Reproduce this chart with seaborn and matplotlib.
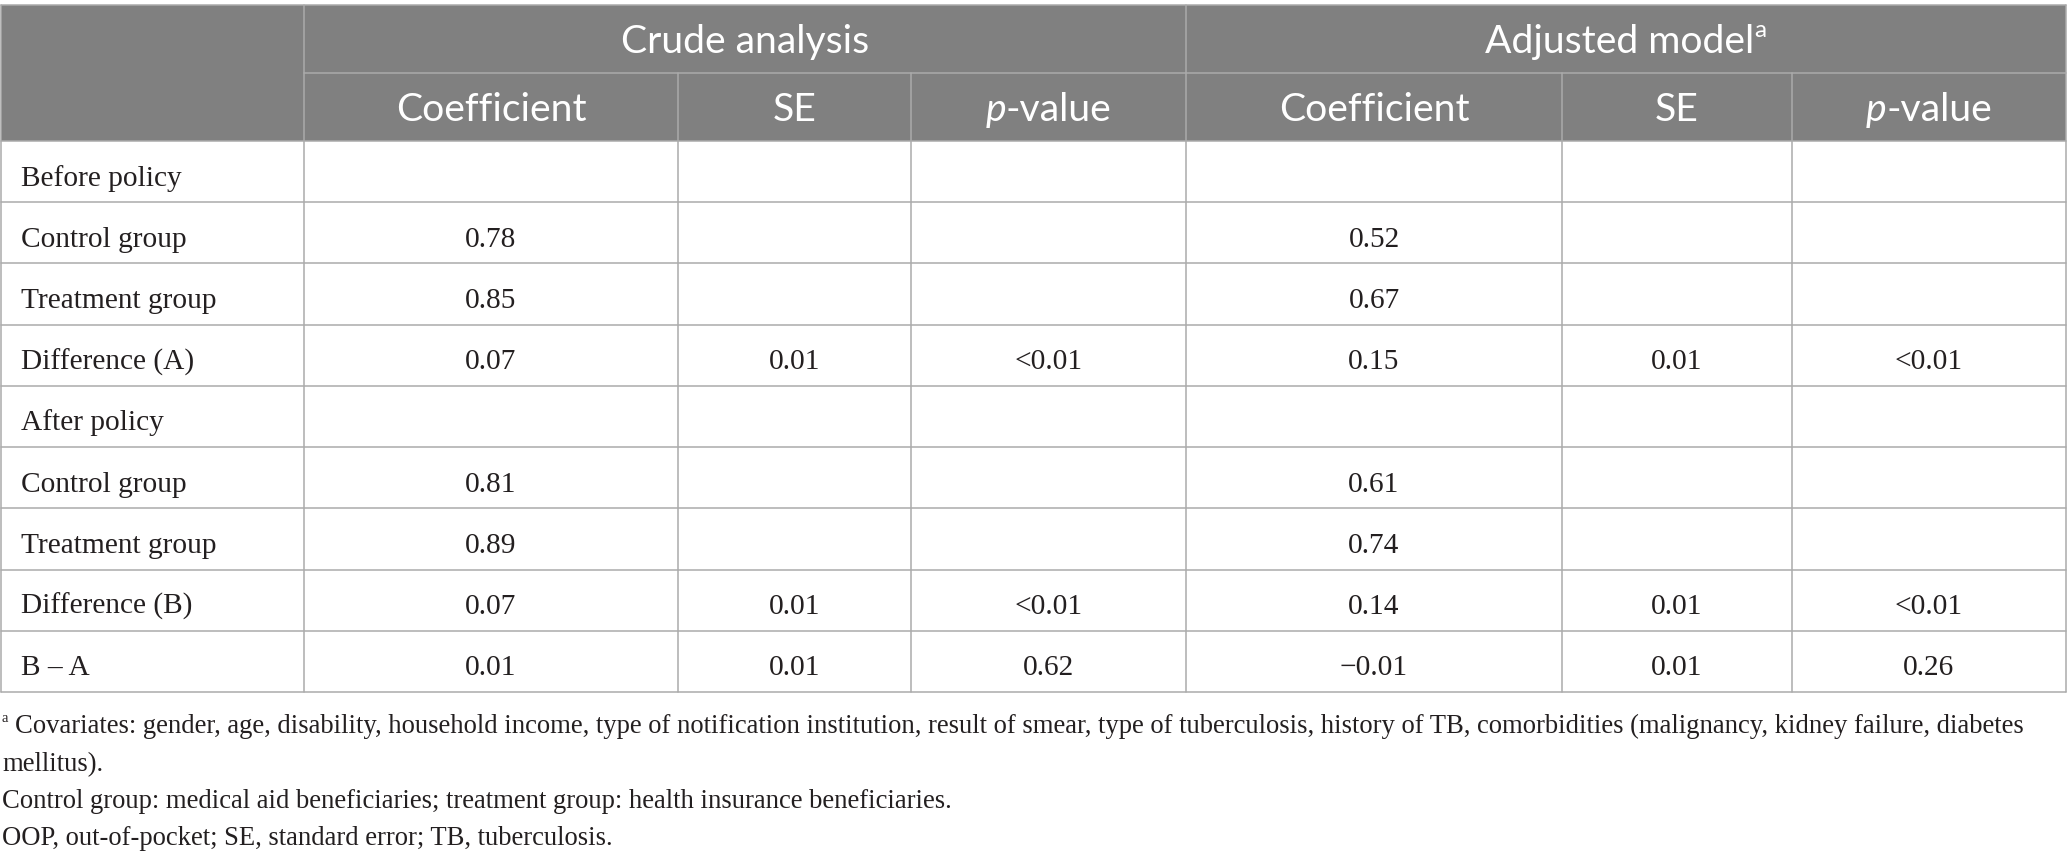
import numpy as np
import pandas as pd
import matplotlib
matplotlib.use("Agg")
import matplotlib.pyplot as plt
import seaborn as sns

# table content
row_labels = ["Before policy", "Control group", "Treatment group", "Difference (A)",
              "After policy", "Control group", "Treatment group", "Difference (B)", "B \u2013 A"]
crude_coef = ["", "0.78", "0.85", "0.07", "", "0.81", "0.89", "0.07", "0.01"]
crude_se = ["", "", "", "0.01", "", "", "", "0.01", "0.01"]
crude_p = ["", "", "", "<0.01", "", "", "", "<0.01", "0.62"]
adj_coef = ["", "0.52", "0.67", "0.15", "", "0.61", "0.74", "0.14", "\u22120.01"]
adj_se = ["", "", "", "0.01", "", "", "", "0.01", "0.01"]
adj_p = ["", "", "", "<0.01", "", "", "", "<0.01", "0.26"]

group_labels = ["Crude analysis", "Adjusted model"]
sub_labels = ["Coefficient", "SE", "p-value", "Coefficient", "SE", "p-value"]

footnotes = [
    "Covariates: gender, age, disability, household income, type of notification institution, "
    "result of smear, type of tuberculosis, history of TB, comorbidities (malignancy, kidney failure, diabetes",
    "mellitus).",
    "Control group: medical aid beneficiaries; treatment group: health insurance beneficiaries.",
    "OOP, out-of-pocket; SE, standard error; TB, tuberculosis.",
]

df = pd.DataFrame({"label": row_labels, "c_coef": crude_coef, "c_se": crude_se, "c_p": crude_p,
                   "a_coef": adj_coef, "a_se": adj_se, "a_p": adj_p})

sns.set_theme(style="white")
plt.rcParams['font.family'] = ['Liberation Serif', 'DejaVu Serif']

W, H = 2068, 859
fig = plt.figure(figsize=(W / 100, H / 100), dpi=100)
ax = fig.add_axes([0, 0, 1, 1])
ax.set_xlim(0, W)
ax.set_ylim(H, 0)
ax.axis("off")

head_bg = "#808080"
line_c = "#ababab"
txt_c = "#231f20"
lw = 1.1

col_edges = [1, 304, 678, 911, 1186, 1562, 1792, 2066]
y_top, y_mid, y_head, y_bot = 5, 73, 141, 692
n_rows = len(df)
row_edges = np.linspace(y_head, y_bot, n_rows + 1)

renderer = fig.canvas.get_renderer()
HEAD_FONT = ["Lato", "DejaVu Sans"]
BODY_FONT = ["Liberation Serif", "DejaVu Serif"]


def text_width(s, size, **kw):
    t = ax.text(0, 0, s, fontsize=size, **kw)
    w = t.get_window_extent(renderer).width
    t.remove()
    return w


def fit_size(s, target, **kw):
    return 20 * target / text_width(s, 20, **kw)


head_size = fit_size("Crude analysis", 249, family=HEAD_FONT)
body_size = fit_size("Treatment group", 195, family=BODY_FONT)
foot_size = fit_size(footnotes[0], 2016, family=BODY_FONT)

# header background
ax.add_patch(plt.Rectangle((col_edges[0], y_top), col_edges[-1] - col_edges[0], y_head - y_top,
                           facecolor=head_bg, edgecolor="none", zorder=1))

# grid lines
ax.plot([col_edges[0], col_edges[-1]], [y_top, y_top], color=line_c, lw=lw, zorder=3)
ax.plot([col_edges[1], col_edges[-1]], [y_mid, y_mid], color=line_c, lw=lw, zorder=3)
for y in row_edges:
    ax.plot([col_edges[0], col_edges[-1]], [y, y], color=line_c, lw=lw, zorder=3)
for i, x in enumerate(col_edges):
    y0 = y_top if i in (0, 1, 4, 7) else y_mid
    ax.plot([x, x], [y0, y_bot], color=line_c, lw=lw, zorder=3)

head_px = head_size * 100 / 72


def head_text(x, y_c, parts):
    """parts: list of (text, style, scale, rise)"""
    widths = [text_width(s, head_size * sc, family=HEAD_FONT, style=st) for s, st, sc, r in parts]
    x0 = x - sum(widths) / 2
    base = y_c + 0.36 * head_px
    for (s, st, sc, r), w in zip(parts, widths):
        ax.text(x0, base - r * head_px, s, fontsize=head_size * sc, family=HEAD_FONT, style=st,
                color="white", ha="left", va="baseline", zorder=4)
        x0 += w


# group headers
yc1 = (y_top + y_mid) / 2
head_text((col_edges[1] + col_edges[4]) / 2, yc1, [(group_labels[0], "normal", 1, 0)])
head_text((col_edges[4] + col_edges[7]) / 2, yc1, [(group_labels[1], "normal", 1, 0),
                                                   ("a", "normal", 0.62, 0.42)])

# sub headers
yc2 = (y_mid + y_head) / 2
for j, lab in enumerate(sub_labels):
    xc = (col_edges[j + 1] + col_edges[j + 2]) / 2
    if lab.startswith("p-"):
        head_text(xc, yc2, [("p", "italic", 1, 0), ("-value", "normal", 1, 0)])
    else:
        head_text(xc, yc2, [(lab, "normal", 1, 0)])

# body
value_cols = ["c_coef", "c_se", "c_p", "a_coef", "a_se", "a_p"]
for i, row in df.iterrows():
    yc = (row_edges[i] + row_edges[i + 1]) / 2
    base = yc + 14
    ax.text(21, base, row["label"], fontsize=body_size, family=BODY_FONT, color=txt_c,
            ha="left", va="baseline", zorder=4)
    for j, c in enumerate(value_cols):
        if row[c]:
            xc = (col_edges[j + 1] + col_edges[j + 2]) / 2
            ax.text(xc, base, row[c], fontsize=body_size, family=BODY_FONT, color=txt_c,
                    ha="center", va="baseline", zorder=4)

# footnotes
foot_base = [733, 771, 808, 845]
ax.text(2, foot_base[0] - 0.42 * foot_size * 100 / 72, "a", fontsize=foot_size * 0.55,
        family=BODY_FONT, color=txt_c, ha="left", va="baseline")
ax.text(15, foot_base[0], footnotes[0], fontsize=foot_size, family=BODY_FONT, color=txt_c,
        ha="left", va="baseline")
for k in range(1, len(footnotes)):
    ax.text(2, foot_base[k], footnotes[k], fontsize=foot_size, family=BODY_FONT, color=txt_c,
            ha="left", va="baseline")

fig.savefig("out.png", dpi=100, facecolor="white")
